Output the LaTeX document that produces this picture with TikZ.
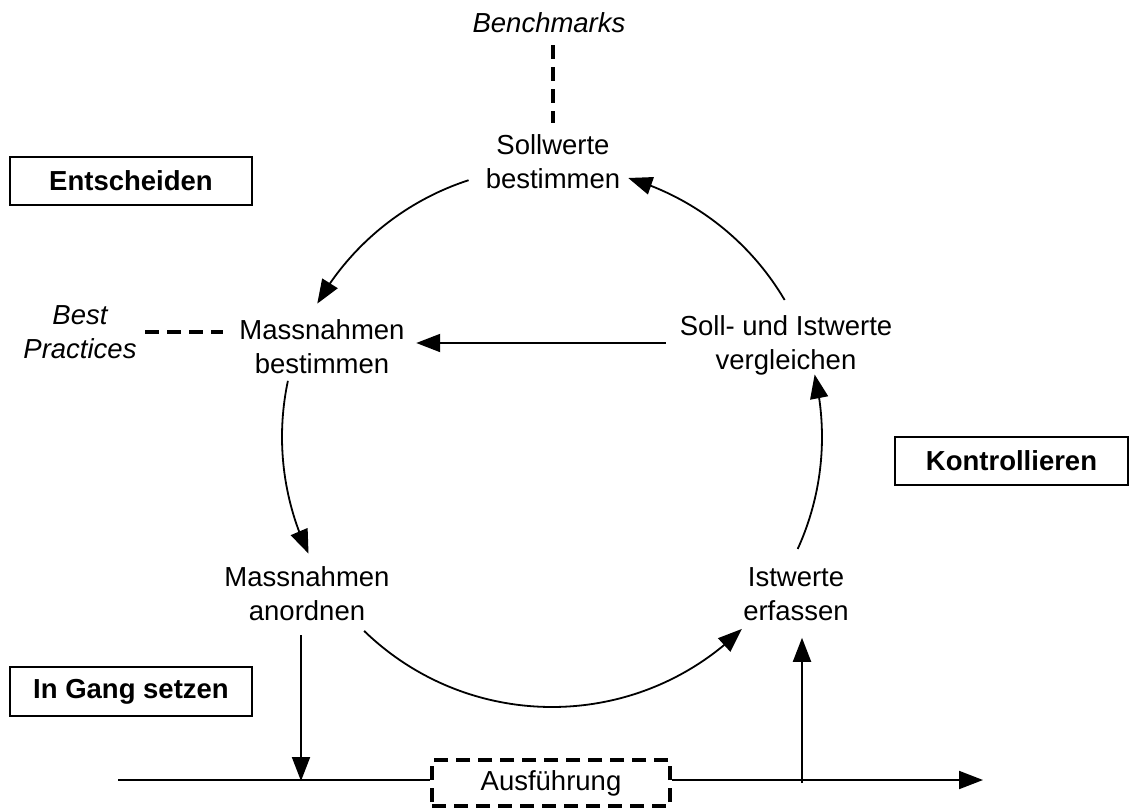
\documentclass[tikz,border=0pt]{standalone}
\usepackage{fontspec}
\setmainfont{Liberation Sans}
\usetikzlibrary{arrows.meta,calc,bending}
\begin{document}
\begin{tikzpicture}[x=1pt,y=-1pt,
  txt/.style={font=\fontsize{27.5}{34}\selectfont, inner sep=0pt, align=center},
  lbl/.style={txt, font=\fontsize{27.5}{34}\selectfont\itshape},
  phase/.style={draw, line width=2pt, font=\fontsize{27.5}{34}\selectfont\bfseries,
                minimum height=48pt, inner sep=0pt},
  tip/.style={-{Triangle[length=24pt,width=18pt]}},
  arr/.style={line width=2pt, tip},
  cyc/.style={line width=1.8pt, tip},
  plain/.style={line width=2pt},
  dashline/.style={line width=3.5pt, dash pattern=on 14pt off 8pt},
]
\fill[white] (0,0) rectangle (1129,808);
\useasboundingbox (0,0) rectangle (1129,808);

% phases of the control cycle
\node[phase, minimum width=242pt] (ent) at (131,181) {Entscheiden};
\node[phase, minimum width=233pt] (kon) at (1011.5,461) {Kontrollieren};
\node[phase, minimum width=242pt, minimum height=49pt] (ing) at (131,691.5) {In Gang setzen};

% steps
\node[lbl, anchor=base] (bench) at (549,33) {Benchmarks};
\node[txt] (sw) at (553,162) {Sollwerte\\bestimmen};
\node[txt] (mb) at (322,347) {Massnahmen\\bestimmen};
\node[txt] (sv) at (786,345) {Soll- und Istwerte\\vergleichen};
\node[txt] (ma) at (307,594) {Massnahmen\\anordnen};
\node[txt] (ie) at (796,594) {Istwerte\\erfassen};
\node[lbl] (bp) at (80,332) {Best\\Practices};

% execution
\node[draw, dashline, minimum width=238pt, minimum height=46pt, inner sep=0pt,
      font=\fontsize{27.5}{34}\selectfont] (aus) at (551,783) {Ausführung};

% external references
\draw[dashline, shorten <=12pt, shorten >=12pt] (bench.south -| sw.north) -- (sw.north);
\draw[dashline] ([xshift=8.5pt]bp.east) -- ([xshift=-16.5pt]bp.east -| mb.west);

% cycle arcs
\coordinate (c) at (552,437);
\draw[cyc] (c) ++(-108:270) arc[start angle=-108, end angle=-150.4, radius=270];
\draw[cyc] (c) ++(-168:270) arc[start angle=-168, end angle=-205.6, radius=270];
\draw[cyc] (c) ++(-225.9:270) arc[start angle=-225.9, end angle=-314.7, radius=270];
\draw[cyc] (c) ++(-335.5:270) arc[start angle=-335.5, end angle=-373.4, radius=270];
\draw[cyc] (c) ++(-30.5:270) arc[start angle=-30.5, end angle=-73.6, radius=270];

% comparison feeds back to the measures
\draw[arr, shorten <=14pt, shorten >=11.5pt] ([yshift=2pt]sv.west) -- ([yshift=2pt]sv.west -| mb.east);

% timeline
\coordinate (tl0) at (118,780);
\coordinate (tl1) at (983,780);
\coordinate (t1) at (301,781);
\coordinate (t2) at (802,783);
\draw[plain] (tl0) -- (tl0 -| aus.west);
\draw[arr] (tl1 -| aus.east) -- (tl1);
\draw[arr, shorten <=14pt] (ma.south -| t1) -- (t1);
\draw[arr, shorten >=17pt] (t2) -- (t2 |- ie.south);
\end{tikzpicture}
\end{document}
